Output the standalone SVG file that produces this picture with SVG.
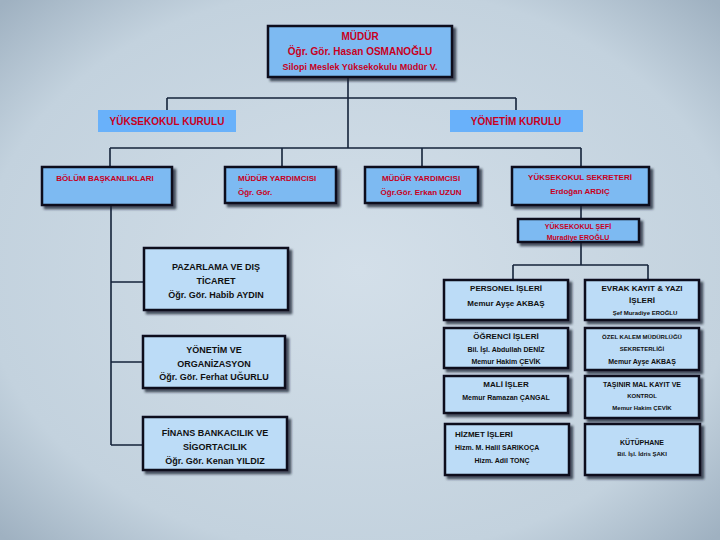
<svg xmlns="http://www.w3.org/2000/svg" width="720" height="540" viewBox="0 0 720 540">
<defs>
<radialGradient id="bg" cx="50%" cy="50%" r="70%">
<stop offset="0" stop-color="#d3dfe9"/>
<stop offset="0.75" stop-color="#c3d2de"/>
<stop offset="1" stop-color="#9fb1c1"/>
</radialGradient>
<filter id="sh" x="-10%" y="-10%" width="130%" height="140%">
<feDropShadow dx="3" dy="3" stdDeviation="1" flood-color="#1a2230" flood-opacity="0.75"/>
</filter>
<style>
.dk{fill:#7dbaf2;stroke:#0a0f1a;stroke-width:2.5;filter:url(#sh)}
.lt{fill:#bcdcf7;stroke:#0a0f1a;stroke-width:2.5;filter:url(#sh)}
.kr{fill:#69b1fa}
text{font-family:"Liberation Sans",Arial,sans-serif;font-weight:bold;text-anchor:middle}
.r{fill:#c8001e}
.b{fill:#101010}
.s10{font-size:10px}
.s9{font-size:9px}
.s8{font-size:8px}
.s7{font-size:7px}
.s6{font-size:6px}
.ln{stroke:#15233a;stroke-width:1.6;fill:none}
</style>
</defs>
<rect width="720" height="540" fill="url(#bg)"/>
<g id="connectors">
<path class="ln" d="M348 77V148 M167 98H516 M167 98V110 M516 98V110"/>
<path class="ln" d="M110 148H581 M110 148V167 M282 148V167 M422 148V167 M581 148V167"/>
<path class="ln" d="M581 205V219 M581 242V265 M513 265H648 M513 265V280 M648 265V280"/>
<path class="ln" d="M111 205V445 M111 282H144 M111 362H143 M111 445H143"/>
</g>
<g id="mudur">
<rect class="dk" x="268" y="26" width="184" height="51"/>
<text class="r s10" x="360" y="40">MÜDÜR</text>
<text class="r s10" x="360" y="55">Öğr. Gör. Hasan OSMANOĞLU</text>
<text class="r s9" x="360" y="70">Silopi Meslek Yüksekokulu Müdür V.</text>
</g>
<g id="yuksekokul-kurulu">
<rect class="kr" x="98" y="110" width="138" height="22"/>
<text class="r s10" x="167" y="125">YÜKSEKOKUL KURULU</text>
</g>
<g id="yonetim-kurulu">
<rect class="kr" x="450" y="110" width="133" height="22"/>
<text class="r s10" x="516" y="125">YÖNETİM KURULU</text>
</g>
<g id="bolum">
<rect class="dk" x="42" y="167" width="130" height="38"/>
<text class="r s8" x="105" y="181">BÖLÜM BAŞKANLIKLARI</text>
</g>
<g id="mudur-yrd1">
<rect class="dk" x="225" y="167" width="111" height="36"/>
<text class="r s8" x="238" y="181" style="text-anchor:start">MÜDÜR YARDIMCISI</text>
<text class="r s8" x="238" y="195" style="text-anchor:start">Öğr. Gör.</text>
</g>
<g id="mudur-yrd2">
<rect class="dk" x="365" y="167" width="113" height="36"/>
<text class="r s8" x="421" y="181">MÜDÜR YARDIMCISI</text>
<text class="r s8" x="421" y="195">Öğr.Gör. Erkan UZUN</text>
</g>
<g id="sekreter">
<rect class="dk" x="512" y="167" width="137" height="38"/>
<text class="r s8" x="580" y="180">YÜKSEKOKUL SEKRETERİ</text>
<text class="r s8" x="580" y="194">Erdoğan ARDIÇ</text>
</g>
<g id="sef">
<rect class="dk" x="518" y="219" width="121" height="23"/>
<text class="r s7" x="578" y="229">YÜKSEKOKUL ŞEFİ</text>
<text class="r s7" x="578" y="240">Muradiye EROĞLU</text>
</g>
<g id="pazarlama">
<rect class="lt" x="144" y="248" width="144" height="62"/>
<text class="b s9" x="216" y="270">PAZARLAMA VE DIŞ</text>
<text class="b s9" x="216" y="284">TİCARET</text>
<text class="b s9" x="216" y="298">Öğr. Gör. Habib AYDIN</text>
</g>
<g id="yonetim-org">
<rect class="lt" x="143" y="336" width="142" height="52"/>
<text class="b s9" x="214" y="353">YÖNETİM VE</text>
<text class="b s9" x="214" y="367">ORGANİZASYON</text>
<text class="b s9" x="214" y="380">Öğr. Gör. Ferhat UĞURLU</text>
</g>
<g id="finans">
<rect class="lt" x="143" y="417" width="144" height="53"/>
<text class="b s9" x="215" y="436">FİNANS BANKACILIK VE</text>
<text class="b s9" x="215" y="450">SİGORTACILIK</text>
<text class="b s9" x="215" y="464">Öğr. Gör. Kenan YILDIZ</text>
</g>
<g id="personel">
<rect class="lt" x="444" y="280" width="124" height="40"/>
<text class="b s8" x="506" y="291">PERSONEL İŞLERİ</text>
<text class="b s8" x="506" y="306">Memur Ayşe AKBAŞ</text>
</g>
<g id="evrak">
<rect class="lt" x="585" y="280" width="114" height="40"/>
<text class="b s8" x="642" y="291">EVRAK KAYIT &amp; YAZI</text>
<text class="b s8" x="642" y="303">İŞLERİ</text>
<text class="b s6" x="645" y="315">Şef Muradiye EROĞLU</text>
</g>
<g id="ogrenci">
<rect class="lt" x="444" y="328" width="124" height="40"/>
<text class="b s8" x="506" y="339">ÖĞRENCİ İŞLERİ</text>
<text class="b s7" x="506" y="352">Bil. İşl. Abdullah DENİZ</text>
<text class="b s7" x="506" y="364">Memur Hakim ÇEVİK</text>
</g>
<g id="ozel-kalem">
<rect class="lt" x="585" y="328" width="114" height="42"/>
<text class="b s6" x="642" y="339">ÖZEL KALEM MÜDÜRLÜĞÜ</text>
<text class="b s6" x="642" y="351">SEKRETERLİĞİ</text>
<text class="b s7" x="642" y="364">Memur Ayşe AKBAŞ</text>
</g>
<g id="mali">
<rect class="lt" x="444" y="376" width="124" height="37"/>
<text class="b s8" x="506" y="387">MALİ İŞLER</text>
<text class="b s7" x="506" y="400">Memur Ramazan ÇANGAL</text>
</g>
<g id="tasinir">
<rect class="lt" x="585" y="376" width="114" height="42"/>
<text class="b s7" x="642" y="387">TAŞINIR MAL KAYIT VE</text>
<text class="b s6" x="642" y="398">KONTROL</text>
<text class="b s6" x="642" y="410">Memur Hakim ÇEVİK</text>
</g>
<g id="hizmet">
<rect class="lt" x="445" y="424" width="124" height="51"/>
<text class="b s8" x="455" y="437" style="text-anchor:start">HİZMET İŞLERİ</text>
<text class="b s7" x="455" y="450" style="text-anchor:start">Hizm. M. Halil SARIKOÇA</text>
<text class="b s7" x="502" y="463">Hizm. Adil TONÇ</text>
</g>
<g id="kutuphane">
<rect class="lt" x="585" y="424" width="115" height="51"/>
<text class="b s7" x="642" y="445">KÜTÜPHANE</text>
<text class="b s6" x="642" y="456">Bil. İşl. İdris ŞAKI</text>
</g>
</svg>
